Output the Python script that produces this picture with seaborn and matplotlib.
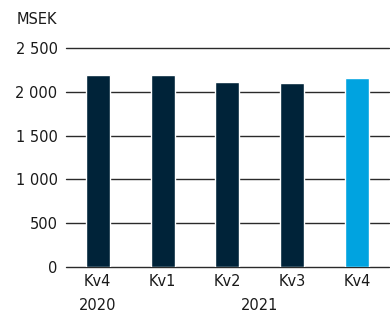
import numpy as np
import pandas as pd
import matplotlib
matplotlib.use("Agg")
import matplotlib.pyplot as plt
import matplotlib.transforms as mtransforms
import seaborn as sns

quarters = ["Kv4", "Kv1", "Kv2", "Kv3", "Kv4"]
years = ["2020", "2021", "2021", "2021", "2021"]
values = [2192, 2192, 2112, 2100, 2158]
bar_colors = ["#002339", "#002339", "#002339", "#002339", "#00A3E0"]
y_ticks = [0, 500, 1000, 1500, 2000, 2500]

data = pd.DataFrame({"pos": [str(i) for i in range(len(values))], "value": values})

sns.set_style("white")
plt.rcParams["font.family"] = ["DejaVu Sans"]

fig = plt.figure(figsize=(3.9, 3.14), dpi=100)
ax = fig.add_axes([0.169, 0.150, 0.828, 0.697])

sns.barplot(data=data, x="pos", y="value", hue="pos", palette=bar_colors,
            legend=False, width=0.37, saturation=1, ax=ax, zorder=3)

# gridlines (drawn beneath bars)
for t in y_ticks:
    ax.axhline(t, color="#2a2a2a", lw=1, zorder=1, clip_on=False)

ax.set_ylim(0, 2500)
ax.set_xlim(-0.49, len(values) - 0.51)
ax.set_yticks(y_ticks)
ax.set_yticklabels([f"{t:,}".replace(",", " ") for t in y_ticks], fontsize=10.5, color="#1a1a1a")
ax.tick_params(axis="y", length=0, pad=6)
ax.set_xticks(range(len(values)))
ax.set_xticklabels(quarters, fontsize=10.5, color="#1a1a1a")
ax.tick_params(axis="x", length=0, pad=5)
ax.set_xlabel("")
ax.set_ylabel("")
for s in ax.spines.values():
    s.set_visible(False)

# year labels under the quarter labels
trans = mtransforms.blended_transform_factory(ax.transData, ax.transAxes)
for yr in dict.fromkeys(years):
    idx = [i for i, y in enumerate(years) if y == yr]
    ax.text(np.mean(idx), -0.175, yr, transform=trans, ha="center", va="center",
            fontsize=10.5, color="#1a1a1a")

fig.text(17 / 390, 1 - 20 / 314, "MSEK", ha="left", va="center", fontsize=10.5, color="#1a1a1a")

fig.savefig("out.png", dpi=100)
